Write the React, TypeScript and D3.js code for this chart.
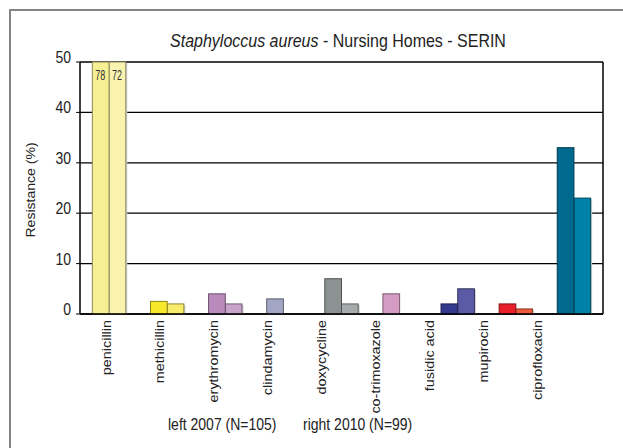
import React from "react";
import * as d3 from "d3";

// categories and values
const drugs = ["penicillin", "methicillin", "erythromycin", "clindamycin", "doxycycline", "co-trimoxazole", "fusidic acid", "mupirocin", "ciprofloxacin"];
const left2007 = [78, 2.5, 4, 3, 7, 4, 2, 2, 33];
const right2010 = [72, 2, 2, 0, 2, 0, 5, 1, 23];
const leftColors = ["#f7ef94", "#f6e92c", "#b98bbd", "#a2a6c4", "#8c9192", "#d49bc4", "#333a8e", "#e8202a", "#006a8e"];
const rightColors = ["#faf3b0", "#f8ec6a", "#c9a3cc", "#a2a6c4", "#a6abac", "#d49bc4", "#5a5aa6", "#ef5b3a", "#0082a8"];
const yTicks = [0, 10, 20, 30, 40, 50];

const W = 623, H = 448;
const plot = { left: 80, right: 603, top: 62, bottom: 314 };
const font = "'Liberation Sans', Arial, sans-serif";
const ink = "#222";
const SY = 1.2; // text in the original is stretched vertically

export default function App() {
  const x = d3.scaleBand<string>().domain(drugs).range([plot.left, plot.right]);
  // category labels sit a bit left of their bars, on an even step of their own
  const xl = d3.scalePoint<string>().domain(drugs).range([110.5, 541.8]);
  const y = d3.scaleLinear().domain([0, 50]).range([plot.bottom, plot.top]);
  const barW = 16.7;

  const bar = (d: string, v: number, side: number, fill: string) => {
    if (v <= 0) return null;
    const cx = (x(d) as number) + x.bandwidth() / 2;
    const bx = side === 0 ? cx - barW : cx;
    const top = y(Math.min(v, 50));
    const stroke = d3.color(fill)!.darker(1.6).formatHex();
    return (
      <g key={d + side}>
        {side === 1 && <rect x={bx + 1.5} y={top + 1} width={barW} height={plot.bottom - top - 1} fill="#cfcfcf" />}
        <rect x={bx} y={top} width={barW} height={plot.bottom - top} fill={fill} stroke={stroke} strokeWidth={1} />
        {v > 50 && (
          <text transform={`translate(${bx + barW / 2 - 0.5},${top + 18}) scale(0.9,1.4)`} textAnchor="middle" fontSize={10} fontFamily={font} fill="#333">{v}</text>
        )}
      </g>
    );
  };

  return (
    <svg width={W} height={H} style={{ position: "absolute", left: 0, top: 0, background: "#fff" }}>
      <rect x={10} y={10} width={W + 20} height={H + 20} fill="none" stroke="#858585" strokeWidth={2} />
      <text transform={`translate(338,46.5) scale(1,${SY})`} textAnchor="middle" fontSize={16} fontFamily={font} fill={ink}>
        <tspan fontStyle="italic">Staphyloccus aureus</tspan> - Nursing Homes - SERIN
      </text>
      {yTicks.map(t => (
        <g key={t}>
          <line x1={plot.left} x2={plot.right} y1={y(t)} y2={y(t)} stroke="#000" strokeWidth={1.3} />
          <line x1={plot.left - 4} x2={plot.left} y1={y(t)} y2={y(t)} stroke="#000" strokeWidth={1} />
          <text transform={`translate(${plot.left - 9},${y(t) + 1}) scale(1,${SY})`} textAnchor="end" fontSize={14} fontFamily={font} fill={ink}>{t}</text>
        </g>
      ))}
      <line x1={plot.left} x2={plot.left} y1={plot.top} y2={plot.bottom} stroke="#000" strokeWidth={1.5} />
      <line x1={plot.right} x2={plot.right} y1={plot.top} y2={plot.bottom} stroke="#000" strokeWidth={1.5} />
      {drugs.map((d, i) => bar(d, right2010[i], 1, rightColors[i]))}
      {drugs.map((d, i) => bar(d, left2007[i], 0, leftColors[i]))}
      <line x1={plot.left} x2={plot.right} y1={plot.bottom} y2={plot.bottom} stroke="#000" strokeWidth={1.5} />
      {drugs.map(d => (
        <text key={d} transform={`translate(${xl(d)},320) rotate(-90) scale(${SY},1)`} textAnchor="end" fontSize={12} fontFamily={font} fill={ink}>{d}</text>
      ))}
      <text transform={`translate(34.6,190) rotate(-90) scale(1.08,1)`} textAnchor="middle" fontSize={13} fontFamily={font} fill={ink}>Resistance (%)</text>
      <text transform={`translate(168,430) scale(1,${SY})`} fontSize={14} fontFamily={font} fill={ink}>left 2007 (N=105)</text>
      <text transform={`translate(303,430) scale(1,${SY})`} fontSize={14} fontFamily={font} fill={ink}>right 2010 (N=99)</text>
    </svg>
  );
}
